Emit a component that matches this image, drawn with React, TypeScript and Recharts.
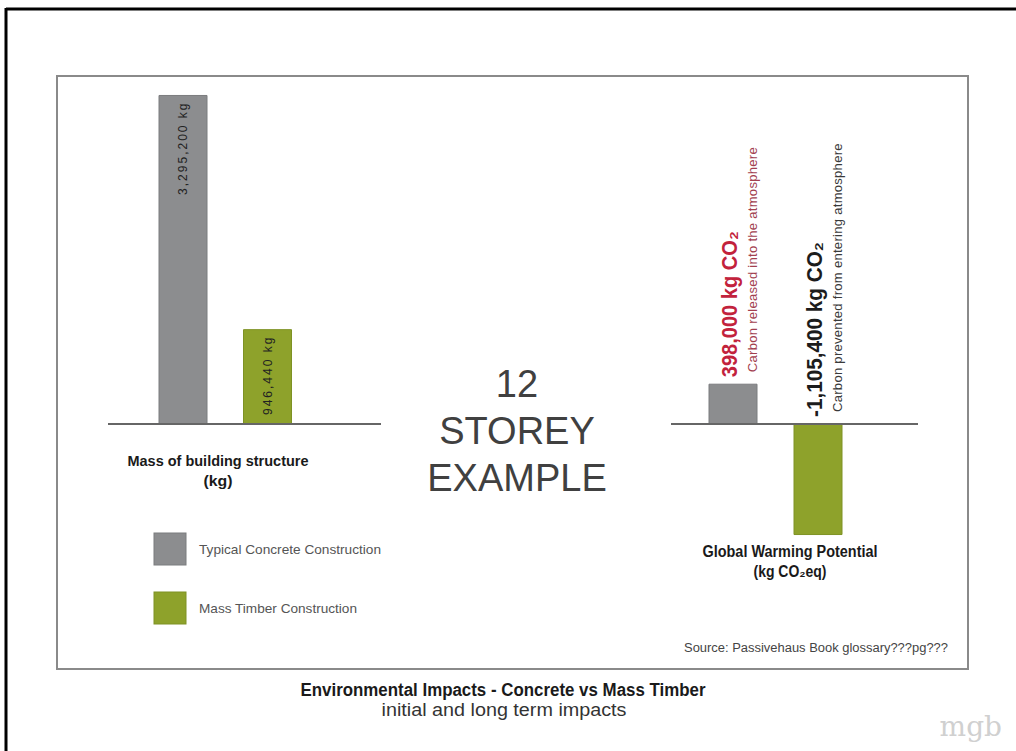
import { BarChart, Bar, XAxis, YAxis, ReferenceLine, Cell, LabelList } from 'recharts';

// left panel: mass of building structure (kg)
const massCategories = ['Typical Concrete Construction', 'Mass Timber Construction'];
const massValues = [3295200, 946440];
const massLabels = ['3,295,200 kg', '946,440 kg'];

// right panel: global warming potential (kg CO2eq)
const gwpValues = [398000, -1105400];
const gwpLabels = ['398,000 kg CO₂', '-1,105,400 kg CO₂'];
const gwpNotes = ['Carbon released into the atmosphere', 'Carbon prevented from entering atmosphere'];

const COLORS = ['#8c8d8f', '#8ea22b'];
const EDGES = ['#7b7c7e', '#7e9224'];
const GWP_LABEL_COLORS = ['#c2223c', '#1c1c1c'];
const GWP_NOTE_COLORS = ['#a2404f', '#3a3a3a'];
// the original face is a condensed gothic; squeeze Liberation Sans Bold to the same widths
const GWP_LABEL_LENGTHS = [146, 175];
const LEGEND_LENGTHS = [182, 158];

const SANS = "'Liberation Sans', Arial, sans-serif";

const massData = massCategories.map((name, i) => ({ name, value: massValues[i] }));
const gwpData = massCategories.map((name, i) => ({ name, value: gwpValues[i] }));

const pickIndex = (props: any, values: number[]) =>
  typeof props.index === 'number' ? props.index : values.indexOf(props.value);

const MassLabel = (props: any) => {
  const vb = props.viewBox ?? props;
  const i = pickIndex(props, massValues);
  const top = Math.min(vb.y, vb.y + vb.height);
  const cx = vb.x + vb.width / 2;
  return (
    <text
      transform={`translate(${cx},${top + 6}) rotate(-90)`}
      textAnchor="end"
      dominantBaseline="central"
      fontFamily={SANS}
      fontSize={12}
      letterSpacing={2}
      fill="#222"
    >
      {massLabels[i]}
    </text>
  );
};

const GwpLabel = (props: any) => {
  const vb = props.viewBox ?? props;
  const i = pickIndex(props, gwpValues);
  const top = Math.min(vb.y, vb.y + vb.height);
  const cx = vb.x + vb.width / 2;
  return (
    <g>
      <text
        transform={`translate(${cx - 4},${top - 7}) rotate(-90)`}
        dominantBaseline="central"
        fontFamily={SANS}
        fontWeight="bold"
        fontSize={22}
        textLength={GWP_LABEL_LENGTHS[i]}
        lengthAdjust="spacingAndGlyphs"
        fill={GWP_LABEL_COLORS[i]}
      >
        {gwpLabels[i]}
      </text>
      <text
        transform={`translate(${cx + 19},${top - 12}) rotate(-90)`}
        dominantBaseline="central"
        fontFamily={SANS}
        fontSize={13}
        letterSpacing={0.3}
        fill={GWP_NOTE_COLORS[i]}
      >
        {gwpNotes[i]}
      </text>
    </g>
  );
};

const layer = { position: 'absolute' as const, left: 0, top: 0 };

export default function App() {
  return (
    <div style={{ position: 'absolute', left: 0, top: 0, width: 1016, height: 751, overflow: 'hidden', background: '#fff' }}>
      <svg width={1016} height={751} style={layer}>
        <line x1={6} y1={9} x2={1016} y2={9} stroke="#000" strokeWidth={3} />
        <line x1={6} y1={8} x2={6} y2={751} stroke="#000" strokeWidth={3} />
        <rect x={57} y={76} width={911} height={593} fill="none" stroke="#8a8a8a" strokeWidth={2} />
      </svg>

      <div style={layer}>
        <BarChart width={1016} height={751} data={massData} margin={{ top: 95, left: 108, right: 635, bottom: 327 }}>
          <XAxis dataKey="name" hide padding={{ left: 33, right: 71 }} />
          <YAxis hide domain={[0, 3300000]} />
          <Bar dataKey="value" barSize={48} isAnimationActive={false}>
            {massData.map((d, i) => (
              <Cell key={d.name} fill={COLORS[i]} stroke={EDGES[i]} strokeWidth={1} />
            ))}
            <LabelList dataKey="value" content={MassLabel} />
          </Bar>
          <ReferenceLine y={0} stroke="#666" strokeWidth={2} />
        </BarChart>
      </div>

      <div style={layer}>
        <BarChart width={1016} height={751} data={gwpData} margin={{ top: 384, left: 671, right: 98, bottom: 207 }}>
          <XAxis dataKey="name" hide padding={{ left: 19, right: 58 }} />
          <YAxis hide domain={[-1200000, 400000]} />
          <Bar dataKey="value" barSize={48} isAnimationActive={false}>
            {gwpData.map((d, i) => (
              <Cell key={d.name} fill={COLORS[i]} stroke={EDGES[i]} strokeWidth={1} />
            ))}
            <LabelList dataKey="value" content={GwpLabel} />
          </Bar>
          <ReferenceLine y={0} stroke="#666" strokeWidth={2} />
        </BarChart>
      </div>

      <svg width={1016} height={751} style={{ ...layer, pointerEvents: 'none' }}>
        <g fontFamily={SANS} fontSize={38} fill="#404040" textAnchor="middle">
          <text x={517} y={397}>12</text>
          <text x={517} y={444}>STOREY</text>
          <text x={517} y={491}>EXAMPLE</text>
        </g>

        <g fontFamily={SANS} fontWeight="bold" fill="#1a1a1a" textAnchor="middle">
          <text x={218} y={466} fontSize={15.5} textLength={181} lengthAdjust="spacingAndGlyphs">
            Mass of building structure
          </text>
          <text x={218} y={486} fontSize={15.5} textLength={29} lengthAdjust="spacingAndGlyphs">
            (kg)
          </text>
          <text x={790} y={557} fontSize={16} textLength={175} lengthAdjust="spacingAndGlyphs">
            Global Warming Potential
          </text>
          <text x={790} y={577} fontSize={16} textLength={73} lengthAdjust="spacingAndGlyphs">
            (kg CO₂eq)
          </text>
          <text x={503} y={696} fontSize={18} textLength={405} lengthAdjust="spacingAndGlyphs">
            Environmental Impacts - Concrete vs Mass Timber
          </text>
        </g>

        {massCategories.map((name, i) => (
          <g key={name}>
            <rect x={154} y={533 + i * 59} width={32} height={32} fill={COLORS[i]} stroke={EDGES[i]} strokeWidth={1} />
            <text
              x={199}
              y={554 + i * 59}
              fontFamily={SANS}
              fontSize={13}
              textLength={LEGEND_LENGTHS[i]}
              lengthAdjust="spacingAndGlyphs"
              fill="#555"
            >
              {name}
            </text>
          </g>
        ))}

        <text x={948} y={652} textAnchor="end" fontFamily={SANS} fontSize={12.5} textLength={264} lengthAdjust="spacingAndGlyphs" fill="#444">
          Source: Passivehaus Book glossary???pg???
        </text>

        <text x={504} y={716} textAnchor="middle" fontFamily={SANS} fontSize={17.5} textLength={245} lengthAdjust="spacingAndGlyphs" fill="#333">
          initial and long term impacts
        </text>

        <text x={1002} y={736} textAnchor="end" fontFamily="'DejaVu Serif', serif" fontSize={28} fill="#d0d0d0">
          mgb
        </text>
      </svg>
    </div>
  );
}
